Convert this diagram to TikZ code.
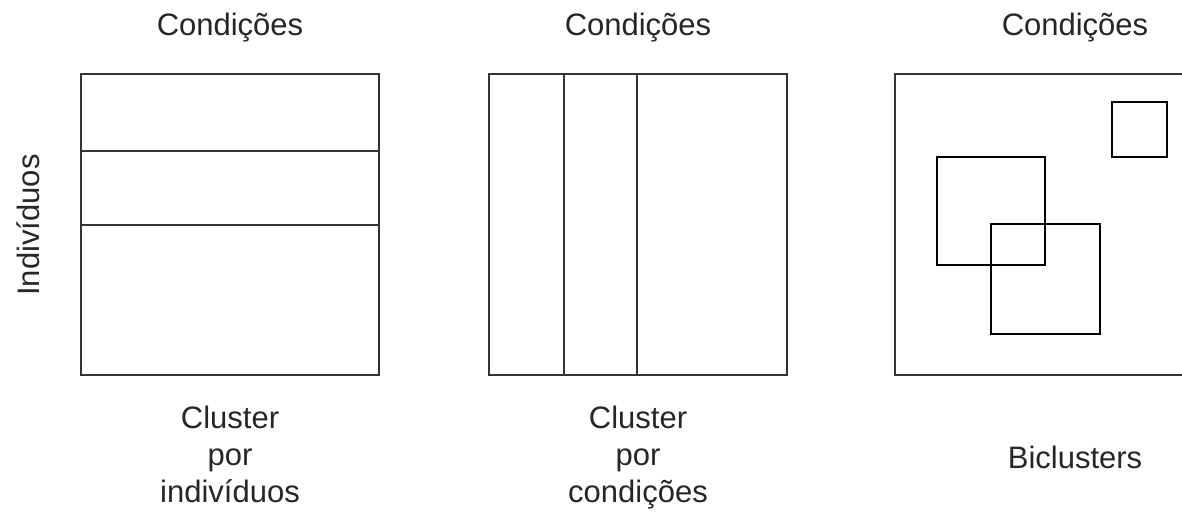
\documentclass[tikz,border=0pt]{standalone}
\usepackage{fontspec}
\setmainfont{Liberation Sans}
\begin{document}
\begin{tikzpicture}[x=1pt,y=-1pt,
  frame/.style={draw=black!80,line width=2pt},
  bic/.style={draw=black,line width=1.8pt},
  lbl/.style={font=\fontsize{31}{37}\selectfont,text=black!85,inner sep=0pt,align=center}]
\useasboundingbox (0,0) rectangle (1182,515);
\clip (0,0) rectangle (1182,515);
% column headings
\node[lbl] (h1) at (230,28) {Condições};
\node[lbl] (h2) at (638,28) {Condições};
\node[lbl] (h3) at (1075,28) {Condições};
% row axis label
\node[lbl,rotate=90] (rows) at (28,225) {Indivíduos};
% row clustering
\draw[frame] (81,74) rectangle (379,375);
\draw[frame] (81,151) -- (379,151);
\draw[frame] (81,225) -- (379,225);
% column clustering
\draw[frame] (489,74) rectangle (787,375);
\draw[frame] (564,74) -- (564,375);
\draw[frame] (637,74) -- (637,375);
% biclustering
\draw[frame] (895,74) rectangle (1200,375);
\draw[bic] (1112,102) rectangle (1167,157);
\draw[bic] (937,157) rectangle (1045,265);
\draw[bic] (991,224) rectangle (1100,334);
% captions
\node[lbl,anchor=north] (c1) at (230,406) {Cluster\\por\\indivíduos};
\node[lbl,anchor=north] (c2) at (638,406) {Cluster\\por\\condições};
\node[lbl] (c3) at (1075,457) {Biclusters};
\end{tikzpicture}
\end{document}
